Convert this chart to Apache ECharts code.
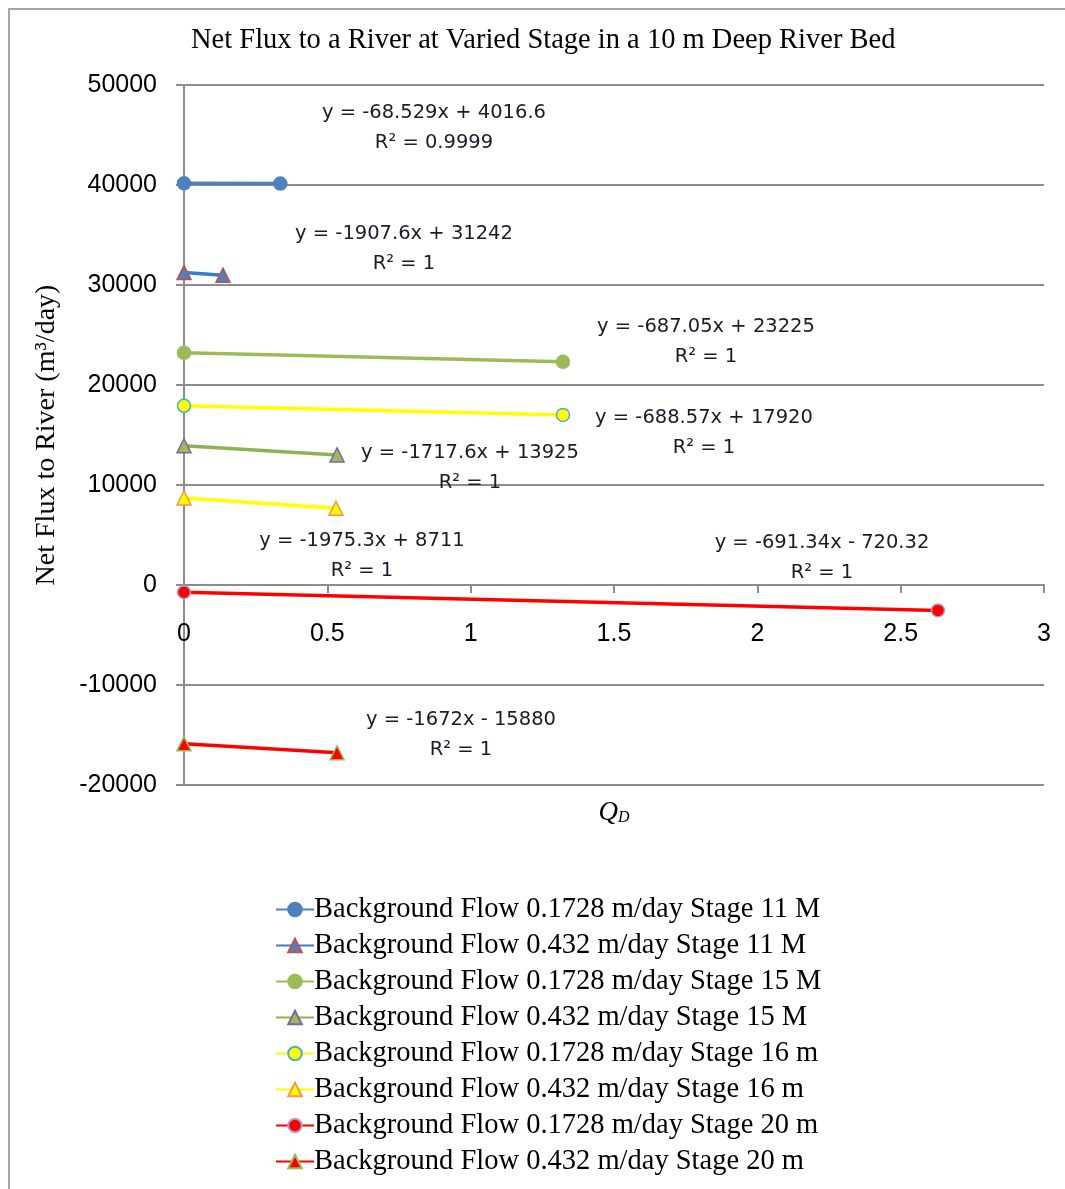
<!DOCTYPE html>
<html>
<head>
<meta charset="utf-8">
<title>Net Flux to a River at Varied Stage</title>
<script src="https://cdn.jsdelivr.net/npm/echarts@6/dist/echarts.min.js"></script>
<style>
  html, body { margin: 0; padding: 0; background: #ffffff; }
  #chart { width: 1065px; height: 1189px; }
</style>
</head>
<body>
<div id="chart"></div>
<script>
// Q_D (x) and net flux (y, m3/day) for each background flow / stage run
const seriesNames = [
  'Background Flow 0.1728 m/day Stage 11 M',
  'Background Flow 0.432 m/day Stage 11 M',
  'Background Flow 0.1728 m/day Stage 15 M',
  'Background Flow 0.432 m/day Stage 15 M',
  'Background Flow 0.1728 m/day Stage 16 m',
  'Background Flow 0.432 m/day Stage 16 m',
  'Background Flow 0.1728 m/day Stage 20 m',
  'Background Flow 0.432 m/day Stage 20 m'
];
const low11  = [[0, 40166], [0.336, 40143]];
const high11 = [[0, 31242], [0.136, 30983]];
const low15  = [[0, 23225], [1.322, 22317]];
const high15 = [[0, 13925], [0.534, 13008]];
const low16  = [[0, 17920], [1.322, 17010]];
const high16 = [[0, 8711],  [0.530, 7664]];
const low20  = [[0, -720.32], [2.630, -2538.54]];
const high20 = [[0, -15880], [0.534, -16773]];

// Trendline equations shown beside the runs
const trendEquations = [
  'y = -68.529x + 4016.6', 'y = -1907.6x + 31242', 'y = -687.05x + 23225',
  'y = -1717.6x + 13925', 'y = -688.57x + 17920', 'y = -1975.3x + 8711',
  'y = -691.34x - 720.32', 'y = -1672x - 15880'
];
const trendR2 = ['R² = 0.9999', 'R² = 1', 'R² = 1', 'R² = 1', 'R² = 1', 'R² = 1', 'R² = 1', 'R² = 1'];

const xTicks = { min: 0, max: 3, interval: 0.5 };
const yTicks = { min: -20000, max: 50000, interval: 10000 };

// Label anchor (pixel) for each equation block, in the same order as trendEquations
const eqAnchors = [[434, 113], [404, 234], [706, 327], [470, 453], [704, 418], [362, 541], [822, 543], [461, 720]];

const styles = [
  { line: '#4F81BD', fill: '#4F81BD', border: '#4F81BD', symbol: 'circle', size: 13 },
  { line: '#3B7BC8', fill: '#4F81BD', border: '#C0504D', symbol: 'triangle', size: 14 },
  { line: '#9BBB59', fill: '#9BBB59', border: '#9BBB59', symbol: 'circle', size: 13 },
  { line: '#8DB255', fill: '#9BBB59', border: '#8064A2', symbol: 'triangle', size: 14 },
  { line: '#FFFF00', fill: '#FFFF00', border: '#4BACC6', symbol: 'circle', size: 13 },
  { line: '#FFFF00', fill: '#FFFF00', border: '#F79646', symbol: 'triangle', size: 14 },
  { line: '#FF0000', fill: '#FF0000', border: '#B0A0D0', symbol: 'circle', size: 13 },
  { line: '#FF0000', fill: '#FF0000', border: '#9BBB59', symbol: 'triangle', size: 14 }
];
const seriesData = [low11, high11, low15, high15, low16, high16, low20, high20];

const series = seriesData.map((d, i) => ({
  name: seriesNames[i],
  type: 'line',
  data: d,
  symbol: styles[i].symbol,
  symbolSize: styles[i].size,
  lineStyle: { color: styles[i].line, width: 3.5 },
  itemStyle: { color: styles[i].fill, borderColor: styles[i].border, borderWidth: 1.5 },
  emphasis: { disabled: true },
  z: 3
}));

const eqGraphics = [];
trendEquations.forEach((t, i) => {
  const [cx, cy] = eqAnchors[i];
  const common = { fontFamily: 'DejaVu Sans', fontSize: 19.5, fill: '#1a1a2a', align: 'center', verticalAlign: 'middle' };
  eqGraphics.push({ type: 'text', x: cx, y: cy, style: Object.assign({ text: t }, common), z: 10 });
  eqGraphics.push({ type: 'text', x: cx, y: cy + 30, style: Object.assign({ text: trendR2[i] }, common), z: 10 });
});

const chart = echarts.init(document.getElementById('chart'), null, { renderer: 'canvas' });
chart.setOption({
  animation: false,
  backgroundColor: '#ffffff',
  title: {
    text: 'Net Flux to a River at Varied Stage in a 10 m Deep River Bed',
    left: 186, top: 21,
    textStyle: { fontFamily: 'Liberation Serif', fontSize: 28.5, fontWeight: 'normal', color: '#000' }
  },
  grid: { left: 184, right: 21, top: 85, bottom: 404, containLabel: false },
  xAxis: {
    type: 'value',
    min: xTicks.min, max: xTicks.max, interval: xTicks.interval,
    axisLine: { onZero: true, lineStyle: { color: '#8c8c8c', width: 2 } },
    axisTick: { show: true, length: 8, lineStyle: { color: '#8c8c8c', width: 2 } },
    axisLabel: { margin: -163, fontFamily: 'Liberation Sans', fontSize: 25, color: '#000' },
    splitLine: { show: false },
    name: '{q|Q}{d|D}',
    nameLocation: 'middle',
    nameGap: 14,
    nameTextStyle: {
      rich: {
        q: { fontFamily: 'Liberation Serif', fontStyle: 'italic', fontSize: 27, color: '#000' },
        d: { fontFamily: 'Liberation Serif', fontStyle: 'italic', fontSize: 16, color: '#000', verticalAlign: 'bottom', padding: [10, 0, 0, 0] }
      }
    }
  },
  yAxis: {
    type: 'value',
    min: yTicks.min, max: yTicks.max, interval: yTicks.interval,
    axisLine: { show: true, onZero: false, lineStyle: { color: '#8c8c8c', width: 2 } },
    axisTick: { show: true, length: 8, lineStyle: { color: '#8c8c8c', width: 2 } },
    axisLabel: { margin: 27, fontFamily: 'Liberation Sans', fontSize: 25, color: '#000', formatter: v => String(v) },
    splitLine: { show: true, lineStyle: { color: '#8c8c8c', width: 2 } },
    name: 'Net Flux to River (m³/day)',
    nameLocation: 'middle',
    nameGap: 123,
    nameRotate: 90,
    nameTextStyle: { fontFamily: 'Liberation Serif', fontSize: 28, color: '#000' }
  },
  legend: {
    orient: 'vertical',
    left: 275, top: 895, padding: 0,
    itemWidth: 38, itemHeight: 17, itemGap: 7,
    textStyle: { fontFamily: 'Liberation Serif', fontSize: 28.5, color: '#000', lineHeight: 28, padding: [0, 0, 0, -5] },
    data: seriesNames
  },
  graphic: [
    { type: 'rect', shape: { x: 9, y: 9, width: 1200, height: 1300 }, style: { fill: 'none', stroke: '#a6a6a6', lineWidth: 2 }, z: 0 }
  ].concat(eqGraphics),
  series: series
});
</script>
</body>
</html>
